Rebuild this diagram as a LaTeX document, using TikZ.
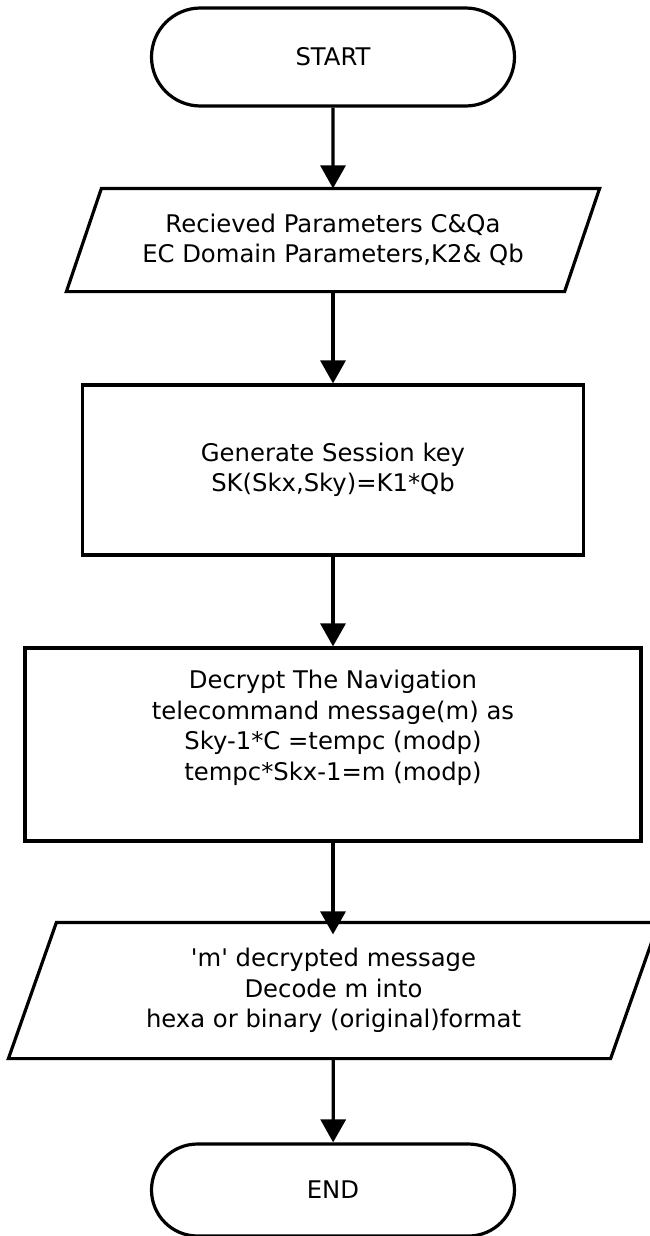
\documentclass[tikz,border=0pt]{standalone}
\usepackage{fontspec}
\setmainfont{DejaVu Sans}
\usetikzlibrary{shapes.misc,arrows.meta}
\begin{document}
\begin{tikzpicture}[x=1pt,y=-1pt,
  every node/.style={font=\fontsize{24.3}{30.5}\selectfont, align=center, text=black},
  term/.style={draw=black, line width=3.2pt, rounded rectangle, minimum width=363pt, inner sep=0pt},
  procbox/.style={draw=black, line width=3.2pt, rectangle, inner sep=0pt},
  iobox/.style={rectangle, inner sep=0pt, line width=3.2pt},
  ioline/.style={draw=black, line width=3.2pt, line join=miter},
  conn/.style={draw=black, line width=3.2pt, -{Triangle[length=23pt,width=25pt]}}
]
\useasboundingbox (0,0) rectangle (649,1236);

% terminals
\node[term, minimum height=98pt] (start) at (333,57) {START};
\node[term, minimum height=92pt] (end) at (333,1190) {END};

% input parallelogram 1
\node[iobox, minimum width=495pt, minimum height=100pt] (p1) at (333,240)
  {Recieved Parameters C\&Qa\\EC Domain Parameters,K2\& Qb};
\draw[ioline] ([xshift=17.5pt]p1.north west) -- ([xshift=17.5pt]p1.north east)
  -- ([xshift=-17.5pt]p1.south east) -- ([xshift=-17.5pt]p1.south west) -- cycle;

% process boxes
\node[procbox, minimum width=501pt, minimum height=170pt] (gen) at (333,470)
  {Generate Session key\\SK(Skx,Sky)=K1*Qb};
\node[procbox, minimum width=616pt, minimum height=193pt] (dec) at (333,744.5) {};
\node (decT) at (333,728)
  {Decrypt The Navigation\\telecommand message(m) as\\Sky-1*C =tempc (modp)\\tempc*Skx-1=m (modp)};

% output parallelogram 2
\node[iobox, minimum width=599pt, minimum height=133pt] (p2) at (333.5,990.5)
  {\textquotesingle m\textquotesingle{} decrypted message\\Decode m into\\hexa or binary (original)format};
\draw[ioline] ([xshift=24pt]p2.north west) -- ([xshift=24pt]p2.north east)
  -- ([xshift=-24pt]p2.south east) -- ([xshift=-24pt]p2.south west) -- cycle;

% connectors
\draw[conn] (start) -- (p1);
\draw[conn] (p1) -- (gen);
\draw[conn] (gen) -- (dec);
\draw[conn, shorten >=-12pt] (dec) -- (dec.south |- p2.north);
\draw[conn] (p2) -- (end);
\end{tikzpicture}
\end{document}
